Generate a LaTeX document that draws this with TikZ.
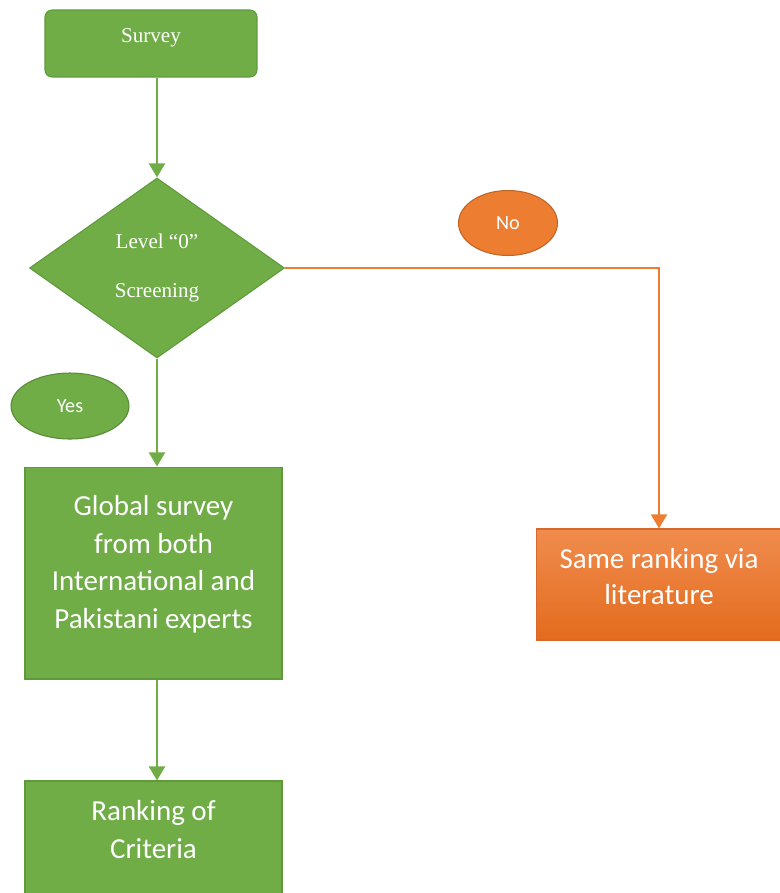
\documentclass[tikz,border=0pt]{standalone}
\usepackage{fontspec}
\setmainfont{Carlito}
\newfontfamily\headfont{Liberation Serif}
\usetikzlibrary{arrows.meta,shapes.geometric}
\definecolor{StepGreen}{HTML}{70AD47}
\definecolor{EdgeGreen}{HTML}{5E9A3B}
\definecolor{NoOrange}{HTML}{ED7D31}
\definecolor{EdgeOrange}{HTML}{D8692A}
\definecolor{TopOrange}{HTML}{F08C4E}
\definecolor{BotOrange}{HTML}{E36B1D}

\begin{document}
\begin{tikzpicture}[
      x=0.02cm, y=-0.02cm,
      >={Triangle[width=9pt,length=8pt]},
      startbox/.style={draw=EdgeGreen,fill=StepGreen,line width=0.6pt,rounded corners=4pt,minimum width=4.24cm,minimum height=1.34cm,text depth=9pt,text=white,font=\headfont\fontsize{12}{14}\selectfont},
      checkbox/.style={diamond,draw=EdgeGreen,fill=StepGreen,line width=0.6pt,minimum width=5.1cm,minimum height=3.6cm,inner sep=0pt,aspect=1.42,align=center,text=white,font=\headfont\fontsize{12}{28}\selectfont},
      greenbox/.style={draw=EdgeGreen,fill=StepGreen,line width=0.6pt,minimum width=5.14cm,align=center,text=white,font=\fontsize{16.5}{21.5}\selectfont},
      orangebox/.style={draw=EdgeOrange,top color=TopOrange,bottom color=BotOrange,line width=0.6pt,minimum width=4.9cm,minimum height=2.22cm,align=center,text=white,font=\fontsize{16.5}{20.5}\selectfont},
      tag/.style={ellipse,draw=#1!80!black,fill=#1,line width=0.6pt,inner sep=0pt,text=white,font=\fontsize{11.5}{13}\selectfont},
      garr/.style={->,line width=1.6pt,draw=StepGreen,color=StepGreen},
      oarr/.style={->,line width=1.3pt,draw=NoOrange,color=NoOrange}
    ]
      \useasboundingbox (0,0) rectangle (780,893);
      \node[startbox] (survey) at (151,43.5) {Survey};
      \node[checkbox] (level) at (157,268) {Level “0”\\Screening};
      \node[tag=StepGreen,minimum width=2.36cm,minimum height=1.32cm] (yes) at (70,406) {Yes};
      \node[tag=NoOrange,minimum width=1.98cm,minimum height=1.3cm] (no) at (508,223) {No};
      \node[greenbox,minimum height=4.24cm] (global) at (153.5,573) {Global survey\\from both\\International and\\Pakistani experts\\[-9pt]\mbox{}};
      \node[greenbox,minimum height=2.4cm] (rank) at (153.5,841) {Ranking of\\Criteria\\[-8pt]\mbox{}};
      \node[orangebox] (same) at (659,584.5) {Same ranking via\\literature\\[-11pt]\mbox{}};
      \draw[garr] (survey.south -| level.north) -- (level.north);
      \draw[garr] (level.south) -- (level.south |- global.north);
      \draw[garr] (global.south -| level.south) -- (level.south |- rank.north);
      \draw[oarr] (level.east) -| (same.north);
    \end{tikzpicture}
\end{document}
